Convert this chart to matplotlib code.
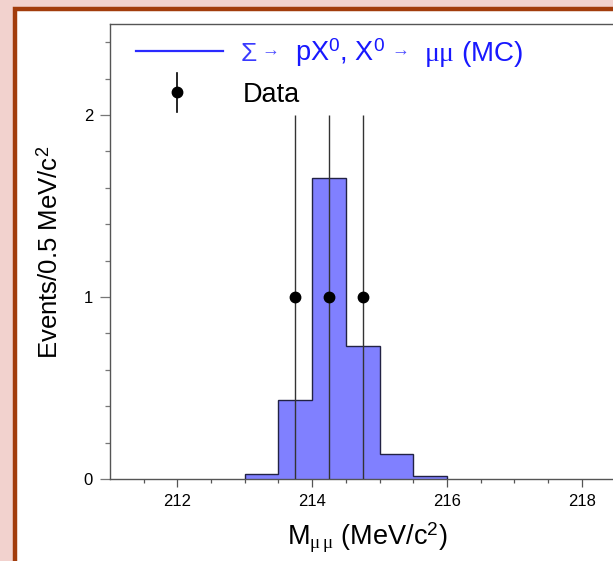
import numpy as np
import matplotlib
matplotlib.use("Agg")
import matplotlib.pyplot as plt
from matplotlib.patches import Rectangle
from matplotlib.lines import Line2D

plt.rcParams['font.family'] = ['Liberation Sans', 'DejaVu Sans']
plt.rcParams['mathtext.fontset'] = 'custom'
plt.rcParams['mathtext.rm'] = 'Liberation Sans'
plt.rcParams['mathtext.it'] = 'Liberation Serif'

# MC histogram (Sigma -> p X0, X0 -> mu mu), 0.5 MeV bins
bin_edges = [213.0, 213.5, 214.0, 214.5, 215.0, 215.5, 216.0]
mc_counts = [0.025, 0.432, 1.652, 0.731, 0.137, 0.015]

# data events
data_mass = [213.75, 214.25, 214.75]
data_counts = [1, 1, 1]
data_err = [1, 1, 1]

W, H = 613, 561
fig = plt.figure(figsize=(W / 100, H / 100), dpi=100)
fig.patch.set_facecolor('#f2d2ce')

# helper: figure pixel -> figure fraction (y measured from top)
def px(x, y):
    return x / W, 1 - y / H

# white panel with dark red frame
x0, y0 = px(15, 9)
fig.patches.append(Rectangle((x0, -0.1), 1.2, y0 + 0.1, transform=fig.transFigure,
                             facecolor='white', edgecolor='#a23c0c', linewidth=3.2, zorder=-5))

left, top = 110, 24
right, bottom = 649, 479
ax = fig.add_axes([left / W, 1 - bottom / H, (right - left) / W, (bottom - top) / H])
ax.set_facecolor('white')

ax.stairs(mc_counts, bin_edges, fill=True, facecolor='#8080ff', edgecolor='none', zorder=2)
ax.stairs(mc_counts, bin_edges, fill=False, edgecolor='#222244', linewidth=1.0, zorder=3)

ax.errorbar(data_mass, data_counts, yerr=data_err, fmt='o', color='black', markersize=7.5,
            ecolor='#333333', elinewidth=1.0, capsize=0, zorder=4)

ax.set_xlim(211, 219)
ax.set_ylim(0, 2.5)
ax.set_xticks([212, 214, 216, 218])
ax.set_xticks(np.arange(211.5, 219, 0.5), minor=True)
ax.set_yticks([0, 1, 2])
ax.set_yticks(np.arange(0.2, 2.5, 0.2), minor=True)

for s in ['left', 'top', 'bottom', 'right']:
    ax.spines[s].set_color('#555555')
    ax.spines[s].set_linewidth(1.0)

ax.tick_params(axis='x', which='major', direction='out', length=5.5, width=0.9,
               color='#555555', pad=5.5, labelsize=12)
ax.tick_params(axis='x', which='minor', direction='out', length=3.1, width=0.9, color='#555555')
ax.tick_params(axis='y', which='major', direction='out', length=7.2, width=0.9,
               color='#777777', pad=5, labelsize=12)
ax.tick_params(axis='y', which='minor', direction='out', length=3.6, width=0.9, color='#777777')

# axis labels
fig.text(*px(287, 545), r'M$_{\mu\,\mu}$ (MeV/c$^{\mathrm{2}}$)', fontsize=19.5,
         ha='left', va='baseline')
fig.text(*px(37, 252), r'Events/0.5 MeV/c$^{\mathrm{2}}$', fontsize=18.5, rotation=90,
         ha='left', va='center')

# legend (drawn by hand)
blue = '#1818ff'
lx0, ly = px(136, 51)
lx1, _ = px(223, 51)
fig.add_artist(Line2D([lx0, lx1], [ly, ly], color='#2a2aff', linewidth=1.6, transform=fig.transFigure))
fig.text(*px(240, 61), r'$\Sigma$', fontsize=19, color='#3a3aff', va='baseline')
fig.text(*px(261, 51), '\u2192', fontsize=13, color='#5050ff', va='center')
fig.text(*px(295, 61), r'pX$^{\mathrm{0}}$, X$^{\mathrm{0}}$', fontsize=19.5, color=blue, va='baseline')
fig.text(*px(391, 51), '\u2192', fontsize=13, color='#5050ff', va='center')
fig.text(*px(424, 61), r'$\mu\mu$ (MC)', fontsize=20, color=blue, va='baseline')

mx, my = px(177, 92)
_, e0 = px(177, 73)
_, e1 = px(177, 112)
fig.add_artist(Line2D([mx, mx], [e0, e1], color='black', linewidth=1.2, transform=fig.transFigure))
fig.add_artist(Line2D([mx], [my], marker='o', markersize=7.5, color='black', transform=fig.transFigure))
fig.text(*px(243, 102), 'Data', fontsize=19.5, color='black', va='baseline')

fig.savefig('out.png', dpi=100, facecolor=fig.get_facecolor())
